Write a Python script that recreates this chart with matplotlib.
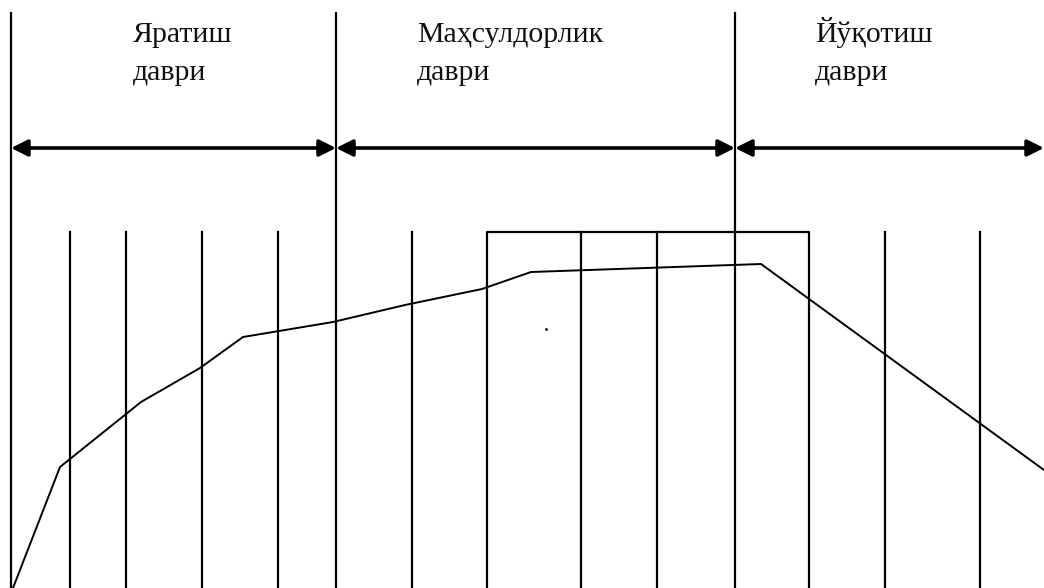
import matplotlib.pyplot as plt

# period boundaries (tall lines) and labels
boundaries = [11, 336, 735]
period_names = ["Яратиш\nдаври", "Маҳсулдорлик\nдаври", "Йўқотиш\nдаври"]
label_x = [133, 417, 815]
arrow_spans = [(11, 336), (336, 735), (735, 1044)]

# short grid lines and the highlighted box
grid_x = [70, 126, 202, 278, 412, 581, 657, 885, 980]
box_left, box_right = 487, 809

# the curve (pixel positions)
curve_x = [13, 60, 141, 200, 243, 333, 405, 482, 531, 761, 1044]
curve_y = [588, 467, 402, 368, 337, 322, 305, 289, 272, 264, 470]

fig = plt.figure(figsize=(10.44, 5.88), dpi=100)
ax = fig.add_axes([0, 0, 1, 1])
ax.set_xlim(0, 1044)
ax.set_ylim(588, 0)
ax.axis('off')

for x in boundaries:
    ax.plot([x, x], [13, 588], color='black', lw=1.6)

for x in grid_x:
    ax.plot([x, x], [232, 588], color='black', lw=1.6)

ax.plot([box_left, box_left, box_right, box_right], [588, 232, 232, 588],
        color='black', lw=1.6)

for x0, x1 in arrow_spans:
    ax.annotate('', xy=(x1, 148), xytext=(x0, 148),
                arrowprops=dict(arrowstyle='<|-|>', color='black', lw=2.6,
                                mutation_scale=25, shrinkA=0, shrinkB=0))

for x, name in zip(label_x, period_names):
    for i, line in enumerate(name.split('\n')):
        ax.text(x, 42 + i * 38, line, fontsize=21.5, va='baseline', ha='left',
                color='#111111', family=['Liberation Serif', 'DejaVu Serif'])

ax.plot(curve_x, curve_y, color='black', lw=1.4, solid_joinstyle='miter')
ax.plot([546], [329], marker='.', markersize=2, color='black')

fig.savefig('out.png', dpi=100)
